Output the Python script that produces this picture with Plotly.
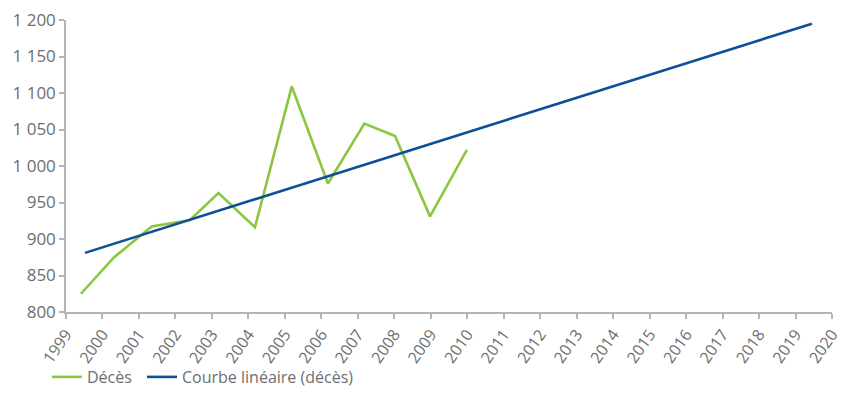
import plotly.graph_objects as go

# Décès par année (positions annuelles telles que tracées)
deces_x = [1999.41, 2000.32, 2001.35, 2002.40, 2003.18, 2004.18,
           2005.19, 2006.18, 2007.18, 2008.02, 2008.98, 2009.99]
deces_y = [825, 875, 917, 926, 963, 916, 1109, 976, 1058, 1041, 931, 1022]

# Courbe linéaire (tendance des décès), extrémités
tendance_x = [1999.52, 2019.45]
tendance_y = [881, 1195]

annees = list(range(1999, 2021))
annees_labels = [str(a) for a in annees]
y_ticks = [800, 850, 900, 950, 1000, 1050, 1100, 1150, 1200]

VERT = "#8cc63f"
BLEU = "#0f4f98"
GRIS_AXE = "#b5b5b5"
GRIS_TEXTE = "#6d6e71"

fig = go.Figure()
fig.add_trace(go.Scatter(
    x=deces_x, y=deces_y, mode="lines", name="Décès",
    line=dict(color=VERT, width=2.6), legend="legend",
))
fig.add_trace(go.Scatter(
    x=tendance_x, y=tendance_y, mode="lines", name="Courbe linéaire (décès)",
    line=dict(color=BLEU, width=2.6), legend="legend2",
))

legende_commune = dict(
    orientation="h", xref="container", yref="container",
    xanchor="left", y=0.0, yanchor="bottom",
    font=dict(size=16, color=GRIS_TEXTE), itemwidth=30,
    bgcolor="rgba(0,0,0,0)",
)

fig.update_layout(
    width=853, height=394,
    margin=dict(l=66, r=21, t=20, b=82, autoexpand=False),
    paper_bgcolor="white", plot_bgcolor="white",
    separators=", ",
    font=dict(family="Open Sans", size=16, color=GRIS_TEXTE),
    showlegend=True,
    legend=dict(x=0.055, **legende_commune),
    legend2=dict(x=0.1665, **legende_commune),
)
fig.update_xaxes(
    range=[1999, 2020], tickvals=annees, ticktext=annees_labels,
    tickangle=-55, ticks="outside", ticklen=5, tickcolor=GRIS_AXE, tickwidth=1.5,
    showline=True, linecolor=GRIS_AXE, linewidth=1.5, showgrid=False, zeroline=False,
    tickfont=dict(size=16, color=GRIS_TEXTE), automargin=False,
)
fig.update_yaxes(
    range=[800, 1200], tickvals=y_ticks, tickformat=",d",
    ticks="outside", ticklen=5, tickcolor=GRIS_AXE, tickwidth=1.5,
    showline=True, linecolor=GRIS_AXE, linewidth=1.5, showgrid=False, zeroline=False,
    tickfont=dict(size=17, color=GRIS_TEXTE), automargin=False,
)

fig.write_html("out.html")
